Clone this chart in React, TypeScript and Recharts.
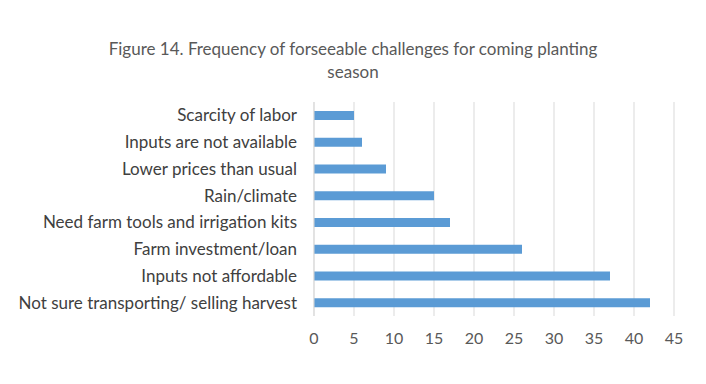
import { BarChart, Bar, XAxis, YAxis, CartesianGrid } from "recharts";

const categories = [
  "Scarcity of labor",
  "Inputs are not available",
  "Lower prices than usual",
  "Rain/climate",
  "Need farm tools and irrigation kits",
  "Farm investment/loan",
  "Inputs not affordable",
  "Not sure transporting/ selling harvest",
];
const counts = [5, 6, 9, 15, 17, 26, 37, 42];
const xTicks = [0, 5, 10, 15, 20, 25, 30, 35, 40, 45];

const data = categories.map((name, i) => ({ name, value: counts[i] }));

const FONT = "Lato, 'Open Sans', sans-serif";

export default function App() {
  return (
    <div
      style={{
        position: "absolute",
        left: 0,
        top: 0,
        width: 706,
        height: 384,
        background: "#fff",
        fontFamily: FONT,
      }}
    >
      <div
        style={{
          position: "absolute",
          left: 0,
          top: 37,
          width: 706,
          textAlign: "center",
          color: "#595959",
          fontSize: 17,
          lineHeight: "23px",
        }}
      >
        <div style={{ paddingLeft: 20, paddingRight: 20 }}>
          Figure 14. Frequency of forseeable challenges for coming planting
        </div>
        <div>season</div>
      </div>
      <BarChart
        width={706}
        height={384}
        data={data}
        layout="vertical"
        margin={{ top: 102, right: 32, left: 0, bottom: 0 }}
        barSize={9}
      >
        <CartesianGrid horizontal={false} stroke="#d9d9d9" />
        <XAxis
          type="number"
          domain={[0, 45]}
          ticks={xTicks}
          axisLine={false}
          tickLine={false}
          height={68}
          tickMargin={11}
          tick={{ fontSize: 16, fill: "#595959", fontFamily: FONT }}
        />
        <YAxis
          type="category"
          dataKey="name"
          width={314}
          axisLine={{ stroke: "#d9d9d9" }}
          tickLine={false}
          tickMargin={11}
          interval={0}
          tick={{ fontSize: 17, fill: "#404040", fontFamily: FONT }}
        />
        <Bar dataKey="value" fill="#5B9BD5" isAnimationActive={false} />
      </BarChart>
    </div>
  );
}
